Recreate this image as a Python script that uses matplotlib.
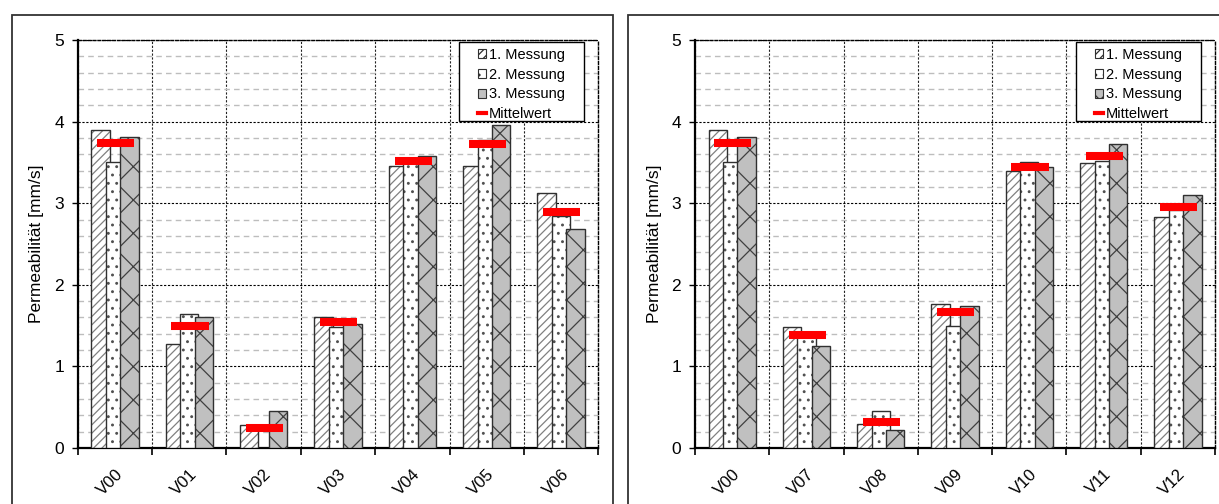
import numpy as np
import matplotlib
matplotlib.use("Agg")
import matplotlib.pyplot as plt
from matplotlib.lines import Line2D
from matplotlib.patches import Rectangle, Patch

# ---- data ----
LEFT_CATS = ["V00", "V01", "V02", "V03", "V04", "V05", "V06"]
LEFT_M1 = [3.90, 1.27, 0.28, 1.60, 3.46, 3.46, 3.13]
LEFT_M2 = [3.50, 1.64, 0.00, 1.48, 3.52, 3.77, 2.85]
LEFT_M3 = [3.81, 1.60, 0.45, 1.52, 3.58, 3.96, 2.69]
LEFT_MEAN = [3.74, 1.50, 0.245, 1.54, 3.52, 3.73, 2.89]

RIGHT_CATS = ["V00", "V07", "V08", "V09", "V10", "V11", "V12"]
RIGHT_M1 = [3.90, 1.48, 0.30, 1.76, 3.39, 3.49, 2.83]
RIGHT_M2 = [3.50, 1.40, 0.46, 1.50, 3.51, 3.52, 2.92]
RIGHT_M3 = [3.81, 1.25, 0.22, 1.74, 3.45, 3.73, 3.10]
RIGHT_MEAN = [3.74, 1.38, 0.32, 1.67, 3.45, 3.58, 2.95]

SERIES = ["1. Messung", "2. Messung", "3. Messung"]
MEAN_LABEL = "Mittelwert"
YLABEL = "Permeabilität [mm/s]"

EDGE = "#303030"
HATCH_STYLES = [
    dict(face="white", hatch="////", hcol="#808080"),
    dict(face="white", hatch="..", hcol="#505050"),
    dict(face="#c0c0c0", hatch="x", hcol="#404040"),
]
OFFSETS = [-0.195, 0.0, 0.195]
BAR_W = 0.245

plt.rcParams.update({
    "font.family": ["Liberation Sans", "DejaVu Sans"],
    "font.size": 11,
    "hatch.linewidth": 0.9,
})


def draw_panel(ax, cats, m1, m2, m3, means):
    x = np.arange(len(cats))
    handles = []
    for vals, off, st in zip([m1, m2, m3], OFFSETS, HATCH_STYLES):
        # hatch layer (hatch takes the edge colour), then a crisp outline on top
        ax.bar(x + off, vals, BAR_W, color=st["face"], edgecolor=st["hcol"],
               hatch=st["hatch"], linewidth=0, zorder=3)
        ax.bar(x + off, vals, BAR_W, facecolor="none", edgecolor=EDGE,
               linewidth=1.0, zorder=3)
        handles.append(Patch(facecolor=st["face"], edgecolor=EDGE,
                             hatch=st["hatch"], linewidth=0.8))
    ax.hlines(means, x - 0.24, x + 0.26, colors="red", linewidth=5.8, zorder=4)

    ax.set_xlim(-0.5, len(cats) - 0.5)
    ax.set_ylim(0, 5)
    ax.set_yticks(np.arange(0, 6, 1))
    ax.set_yticks(np.arange(0, 5.01, 0.2), minor=True)
    ax.set_xticks(x)
    ax.set_xticklabels(cats, rotation=45, ha="right", rotation_mode="anchor",
                       fontsize=12)
    ax.set_xticks(np.arange(-0.5, len(cats), 1), minor=True)
    ax.tick_params(axis="x", which="major", length=0, pad=13)
    ax.tick_params(axis="x", which="minor", length=5, width=1.2, direction="out")
    ax.tick_params(axis="y", which="major", length=4, width=1.0, pad=6,
                   labelsize=12.5)
    ax.tick_params(axis="y", which="minor", length=0)

    ax.yaxis.grid(True, which="minor", color="#bdbdbd", lw=1.0,
                  ls=(0, (4, 3)), zorder=0)
    ax.yaxis.grid(True, which="major", color="black", lw=0.8,
                  ls=(0, (2, 1.5)), zorder=1)
    ax.xaxis.grid(True, which="minor", color="#222222", lw=0.8,
                  ls=(0, (2, 1.5)), zorder=1)
    ax.xaxis.grid(False, which="major")

    for s in ("left", "bottom"):
        ax.spines[s].set_linewidth(1.6)
        ax.spines[s].set_color("black")
    for s in ("top", "right"):
        ax.spines[s].set_linewidth(1.0)
        ax.spines[s].set_linestyle((0, (2, 1.5)))
        ax.spines[s].set_color("black")

    ax.set_ylabel(YLABEL, fontsize=12.5)
    ax.yaxis.set_label_coords(-0.064, 0.5)

    # legend box like the Excel one: frame drawn separately, entries centred in it
    ax.add_patch(Rectangle((0.733, 0.801), 0.240, 0.194, transform=ax.transAxes,
                           facecolor="white", edgecolor="black", lw=1.0,
                           zorder=5))
    handles.append(Line2D([], [], color="red", lw=3))
    leg = ax.legend(handles, SERIES + [MEAN_LABEL], loc="center",
                    bbox_to_anchor=(0.853, 0.891), borderaxespad=0,
                    fontsize=10.5, handlelength=0.55, handleheight=0.6,
                    handletextpad=0.2, labelspacing=0.4, borderpad=0,
                    frameon=False)
    leg.set_zorder(6)


fig = plt.figure(figsize=(12.19, 5.04), dpi=100)
ax1 = fig.add_axes([0.0638, 0.111, 0.4270, 0.8095])
ax2 = fig.add_axes([0.5701, 0.111, 0.4267, 0.8095])

draw_panel(ax1, LEFT_CATS, LEFT_M1, LEFT_M2, LEFT_M3, LEFT_MEAN)
draw_panel(ax2, RIGHT_CATS, RIGHT_M1, RIGHT_M2, RIGHT_M3, RIGHT_MEAN)

# chart-area frames (both cropped at the image border)
fig.add_artist(Rectangle((0.0096, -0.2), 0.4935, 1.17, transform=fig.transFigure,
                         fill=False, edgecolor="#333333", lw=1.3))
fig.add_artist(Rectangle((0.5154, -0.2), 0.6, 1.17, transform=fig.transFigure,
                         fill=False, edgecolor="#333333", lw=1.3))

fig.savefig("out.png", dpi=100)
